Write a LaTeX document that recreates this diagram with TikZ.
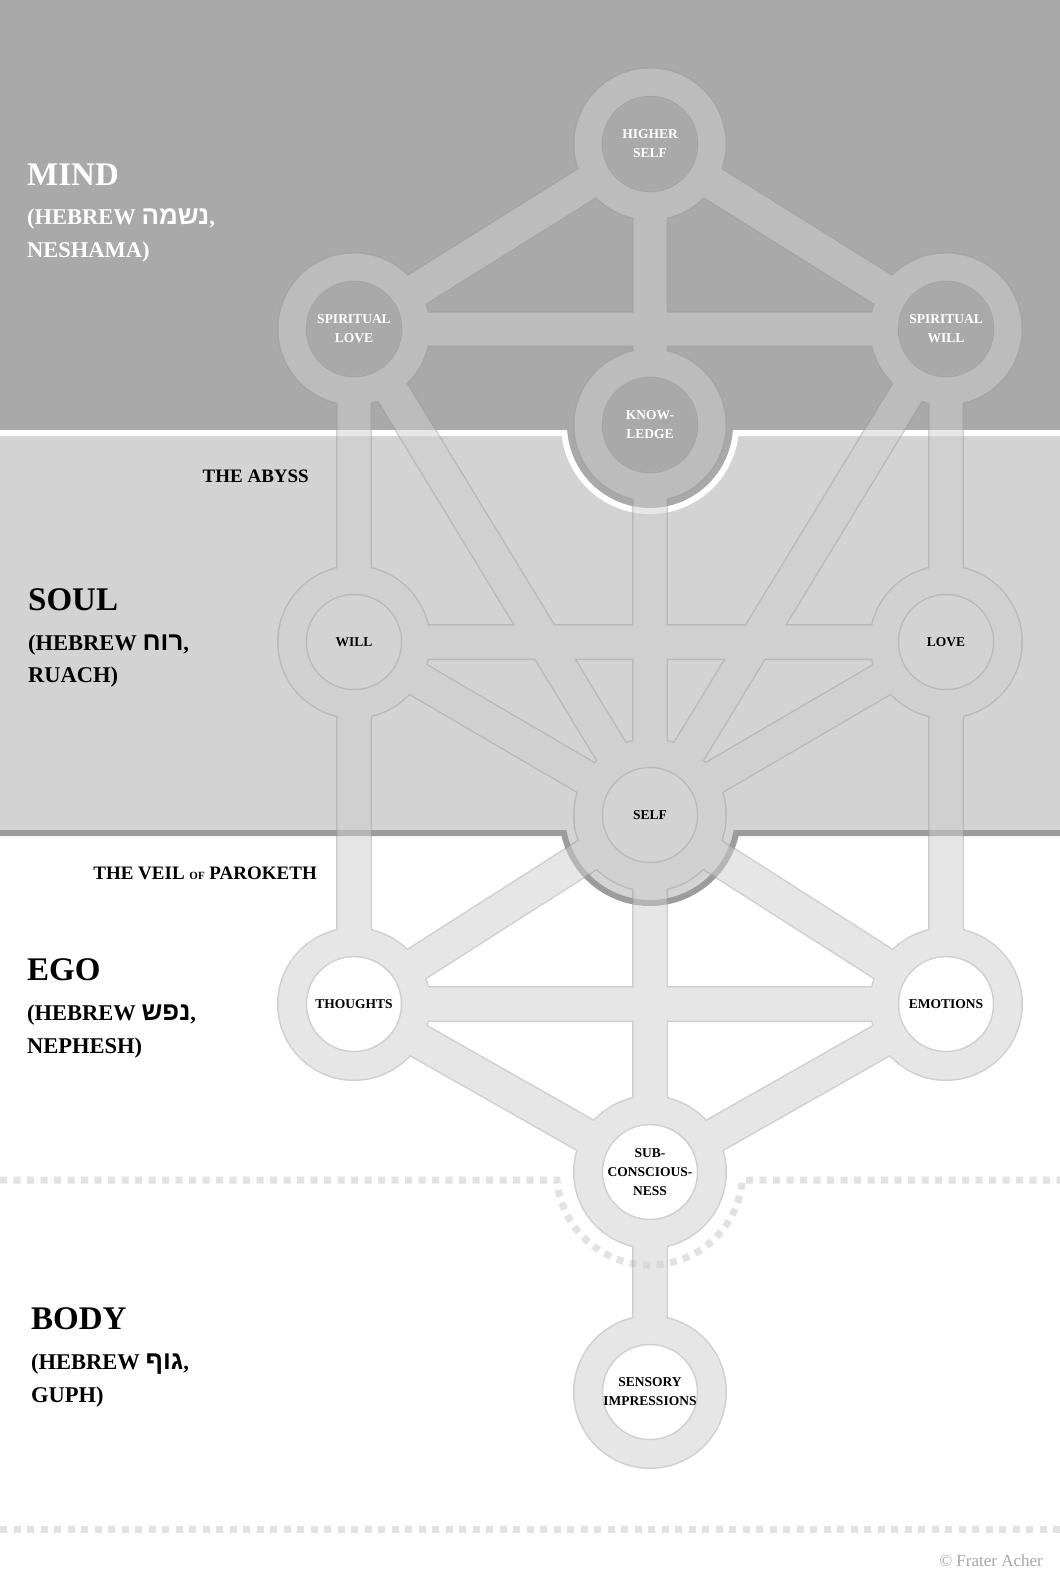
\documentclass[tikz,border=0pt]{standalone}
\usepackage{fontspec}
\setmainfont{Liberation Serif}
\newfontfamily\hebfont[Script=Hebrew,Scale=1.15]{Liberation Sans}
\TeXXeTstate=1
\newcommand{\hebw}[1]{{\hebfont\beginR #1\endR}}
\definecolor{mindgray}{HTML}{A9A9A9}
\definecolor{soulgray}{HTML}{D3D3D3}
\definecolor{pathgray}{HTML}{CFCFCF}
\definecolor{edgegray}{HTML}{A0A0A0}
\definecolor{veilgray}{HTML}{9C9C9C}
\definecolor{dotgray}{HTML}{E2E2E2}
\definecolor{notegray}{HTML}{A6A6A6}
\tikzset{
  sephlabel/.style={align=center,inner sep=0pt,font=\fontsize{13.5}{19}\selectfont\bfseries},
  bandtitle/.style={anchor=base west,inner sep=0pt,font=\fontsize{33}{36}\selectfont\bfseries},
  bandline/.style={anchor=base west,inner sep=0pt,font=\fontsize{22.5}{26}\selectfont\bfseries},
  veiltext/.style={anchor=base east,inner sep=0pt,font=\fontsize{19}{24}\selectfont\bfseries},
  dotline/.style={dotgray,line width=7pt,dash pattern=on 7pt off 6.5pt},
}
\begin{document}
\begin{tikzpicture}[x=1pt,y=-1pt]
    \useasboundingbox (0,0) rectangle (1060,1588);
    \fill[white] (0,0) rectangle (1060,1588);
    % centres of the circles
    \coordinate (hs) at (650,144);  %higher self
    \coordinate (sl) at (354,329);  %spiritual love
    \coordinate (sw) at (946,329);  %spiritual will
    \coordinate (kn) at (650,425);  %knowledge
    \coordinate (wi) at (354,642);  %will
    \coordinate (lo) at (946,642);  %love
    \coordinate (se) at (650,815);  %self
    \coordinate (th) at (354,1004); %thoughts
    \coordinate (em) at (946,1004); %emotions
    \coordinate (sc) at (650,1172); %subconsciousness
    \coordinate (si) at (650,1392); %sensory impressions
    % bands
    \fill[soulgray] (0,433) rectangle (1060,833);
    \fill[soulgray] (se) circle[radius=88];
    \fill[mindgray] (0,0) rectangle (1060,433);
    \fill[mindgray] (kn) circle[radius=86];
    \draw[white,line width=6pt] (0,433) -- (564.4,433) arc[start angle=174.7,end angle=5.3,radius=86] -- (1060,433); %abyss
    \draw[veilgray,line width=6pt] (0,833) -- (563.9,833) arc[start angle=168.2,end angle=11.8,radius=88] -- (1060,833); %veil
    \draw[dotline] (0,1180) -- (557,1180) arc[start angle=175.1,end angle=4.9,radius=93] -- (1060,1180);
    \draw[dotline] (0,1529) -- (1060,1529);
    % tree
    \begin{scope}[transparency group,opacity=.5]
    \begin{scope}[even odd rule]
        \clip (0,0) rectangle (1060,1588)
            (hs) circle[radius=47] (sl) circle[radius=47] (sw) circle[radius=47]
            (kn) circle[radius=47] (wi) circle[radius=47] (lo) circle[radius=47]
            (se) circle[radius=47] (th) circle[radius=47] (em) circle[radius=47]
            (sc) circle[radius=47] (si) circle[radius=47];
        \foreach \a/\b in {hs/sl,hs/sw,hs/se,sl/sw,sl/wi,sw/lo,sl/se,sw/se,wi/lo,wi/se,lo/se,wi/th,lo/em,se/th,se/em,th/em,th/sc,em/sc,se/sc,sc/si}
            \draw[edgegray,line width=36pt] (\a) -- (\b);
        \foreach \s in {hs,sl,sw,kn,wi,lo,se,th,em,sc,si}
            \fill[edgegray] (\s) circle[radius=77];
        \foreach \a/\b in {hs/sl,hs/sw,hs/se,sl/sw,sl/wi,sw/lo,sl/se,sw/se,wi/lo,wi/se,lo/se,wi/th,lo/em,se/th,se/em,th/em,th/sc,em/sc,se/sc,sc/si}
            \draw[pathgray,line width=33pt] (\a) -- (\b);
        \foreach \s in {hs,sl,sw,kn,wi,lo,se,th,em,sc,si}
            \fill[pathgray] (\s) circle[radius=75.5];
        \foreach \s in {hs,sl,sw,kn,wi,lo,se,th,em,sc,si}
            \draw[edgegray,line width=2.5pt] (\s) circle[radius=47];
    \end{scope}
    \end{scope}
    % circle labels
    \node[sephlabel,white] (hsl) at (hs) {HIGHER\\SELF};
    \node[sephlabel,white] (sll) at (sl) {SPIRITUAL\\LOVE};
    \node[sephlabel,white] (swl) at (sw) {SPIRITUAL\\WILL};
    \node[sephlabel,white] (knl) at (kn) {KNOW-\\LEDGE};
    \node[sephlabel] (wil) at (wi) {WILL};
    \node[sephlabel] (lol) at (lo) {LOVE};
    \node[sephlabel] (sel) at (se) {SELF};
    \node[sephlabel] (thl) at (th) {THOUGHTS};
    \node[sephlabel] (eml) at (em) {EMOTIONS};
    \node[sephlabel] (scl) at (sc) {SUB-\\CONSCIOUS-\\NESS};
    \node[sephlabel] (sil) at (si) {SENSORY\\IMPRESSIONS};
    % band labels
    \node[bandtitle,white] (mind) at (27,185) {MIND};
    \node[bandline,white] (mindheb) at (27,224) {(HEBREW \hebw{נשמה},};
    \node[bandline,white] (mindname) at (27,257) {NESHAMA)};
    \node[bandtitle] (soul) at (28,610) {SOUL};
    \node[bandline] (soulheb) at (28,650) {(HEBREW \hebw{רוח},};
    \node[bandline] (soulname) at (28,682) {RUACH)};
    \node[bandtitle] (ego) at (27,980) {EGO};
    \node[bandline] (egoheb) at (27,1020) {(HEBREW \hebw{נפש},};
    \node[bandline] (egoname) at (27,1053) {NEPHESH)};
    \node[bandtitle] (body) at (31,1329) {BODY};
    \node[bandline] (bodyheb) at (31,1369) {(HEBREW \hebw{גוף},};
    \node[bandline] (bodyname) at (31,1402) {GUPH)};
    \node[veiltext] (abyss) at (309,482) {THE ABYSS};
    \node[veiltext] (veil) at (317,879) {THE VEIL {\fontsize{11}{11}\selectfont OF} PAROKETH};
    \node[anchor=base east,inner sep=0pt,text=notegray,font=\fontsize{17}{20}\selectfont] (credit) at (1043,1566) {© Frater Acher};
\end{tikzpicture}
\end{document}
